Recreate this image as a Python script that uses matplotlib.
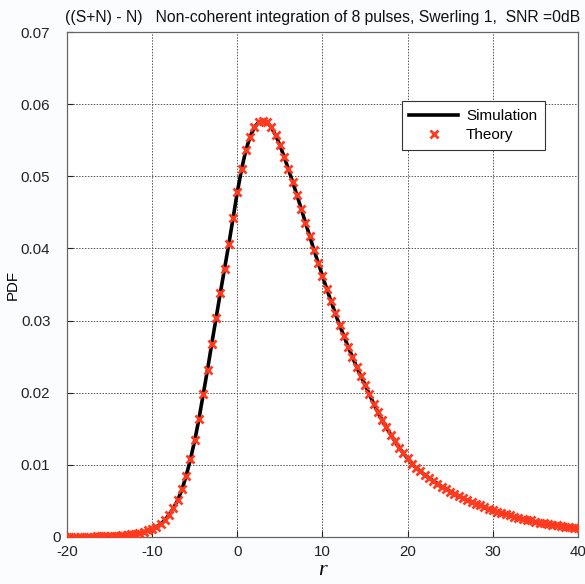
import numpy as np
import matplotlib
matplotlib.use("Agg")
import matplotlib.pyplot as plt
import matplotlib.transforms as mtransforms

# --- data ---
r_theory = [-20.0 + 0.5 * i for i in range(121)]
pdf_theory = [
    0.00002, 0.00002, 0.00003, 0.00003, 0.00004, 0.00005, 0.00006, 0.00007,
    0.00009, 0.00011, 0.00013, 0.00016, 0.00020, 0.00025, 0.00031, 0.00038,
    0.00047, 0.00058, 0.00072, 0.00090, 0.00112, 0.00140, 0.00180, 0.00235,
    0.00310, 0.00400, 0.00510, 0.00660, 0.00850, 0.01080, 0.01340, 0.01640,
    0.01980, 0.02320, 0.02680, 0.03030, 0.03380, 0.03720, 0.04060, 0.04420,
    0.04780, 0.05100, 0.05360, 0.05550, 0.05680, 0.05750, 0.05770, 0.05750,
    0.05680, 0.05570, 0.05430, 0.05270, 0.05100, 0.04920, 0.04740, 0.04550,
    0.04360, 0.04170, 0.03980, 0.03800, 0.03620, 0.03440, 0.03270, 0.03100,
    0.02940, 0.02790, 0.02640, 0.02500, 0.02360, 0.02230, 0.02110, 0.01980,
    0.01850, 0.01730, 0.01620, 0.01520, 0.01420, 0.01330, 0.01240, 0.01160,
    0.01090, 0.01010, 0.00960, 0.00910, 0.00860, 0.00820, 0.00780, 0.00740,
    0.00700, 0.00670, 0.00630, 0.00600, 0.00570, 0.00540, 0.00510, 0.00490,
    0.00460, 0.00440, 0.00420, 0.00390, 0.00370, 0.00350, 0.00330, 0.00320,
    0.00300, 0.00280, 0.00270, 0.00250, 0.00240, 0.00230, 0.00210, 0.00200,
    0.00190, 0.00180, 0.00170, 0.00160, 0.00150, 0.00140, 0.00140, 0.00130,
    0.00120,
]
r_sim = list(r_theory)
pdf_sim = list(pdf_theory)

x_ticks = [-20, -10, 0, 10, 20, 30, 40]
y_ticks = [0, 0.01, 0.02, 0.03, 0.04, 0.05, 0.06, 0.07]
y_tick_labels = ["0", "0.01", "0.02", "0.03", "0.04", "0.05", "0.06", "0.07"]

title = "((S+N) - N)   Non-coherent integration of 8 pulses, Swerling 1,  SNR =0dB"

plt.rcParams['font.family'] = ['Liberation Sans', 'DejaVu Sans']
plt.rcParams['axes.unicode_minus'] = False

fig = plt.figure(figsize=(5.85, 5.84), dpi=100, facecolor='#fbfcfe')
ax = fig.add_axes([0.1145, 0.0805, 0.8735, 0.8645])
ax.set_facecolor('white')

ax.plot(r_sim, pdf_sim, color='black', lw=2.6, label='Simulation', zorder=3)
ax.plot(r_theory, pdf_theory, linestyle='none', marker='x', color='#ff3a1e',
        markersize=6, markeredgewidth=2.0, label='Theory', zorder=4)

ax.set_xlim(-20, 40)
ax.set_ylim(0, 0.07)
ax.set_xticks(x_ticks)
ax.set_yticks(y_ticks)
ax.set_yticklabels(y_tick_labels)
ax.tick_params(direction='in', length=4, labelsize=10.8, colors='#222222')
ax.tick_params(axis='x', pad=6)
ax.tick_params(axis='y', pad=12)
# the "0" label sits closer to the axis in the reference
for lab in ax.get_yticklabels():
    if lab.get_text() == "0":
        lab.set_transform(lab.get_transform() +
                          mtransforms.ScaledTranslation(11 / 100, 0, fig.dpi_scale_trans))
ax.grid(True, linestyle=(0, (1.5, 1.5)), color='#555555', linewidth=0.7)
for s in ax.spines.values():
    s.set_color('#666666')
    s.set_linewidth(0.9)

ax.set_title(title, fontsize=11.3, pad=7, color='#111111')
ax.set_xlabel('r', fontsize=16, fontstyle='italic',
              family=['Liberation Serif', 'DejaVu Serif'], labelpad=1)
ax.set_ylabel('PDF', fontsize=10.8, labelpad=1)

leg = ax.legend(loc='upper right', bbox_to_anchor=(0.935, 0.863),
                borderaxespad=0, fontsize=11, fancybox=False, framealpha=1,
                edgecolor='#333333', handlelength=3.2, borderpad=0.5,
                labelspacing=0.35, handletextpad=0.5)
leg.get_frame().set_linewidth(0.8)

fig.savefig('out.png', dpi=100, facecolor=fig.get_facecolor())
